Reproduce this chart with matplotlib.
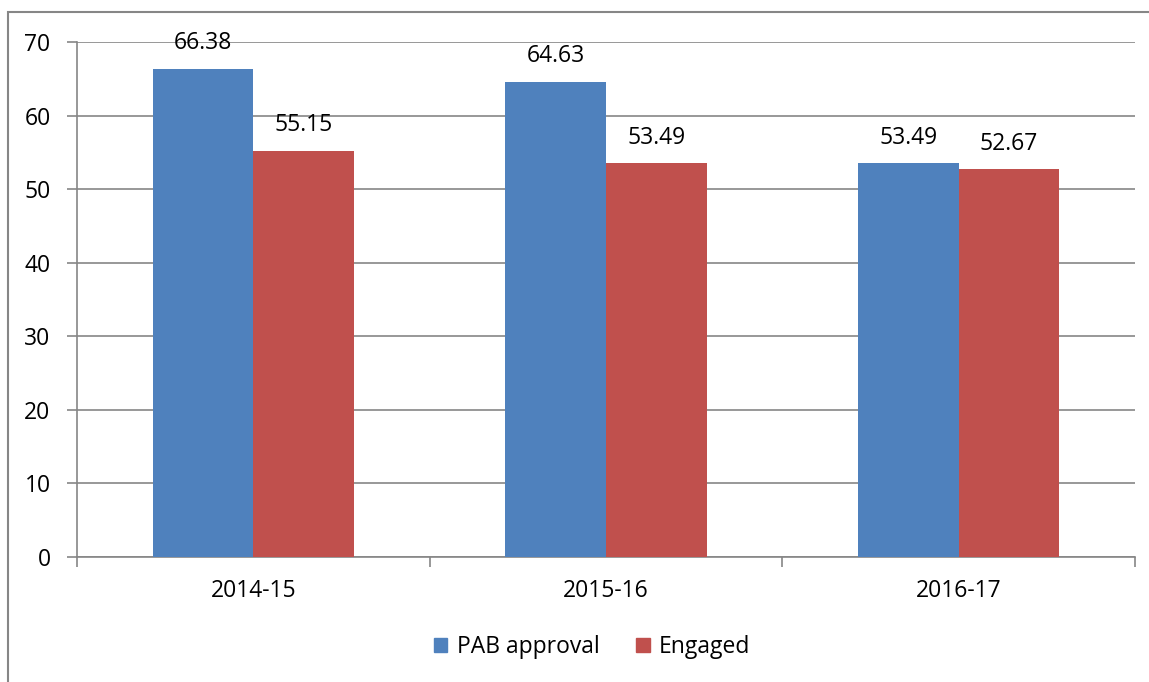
import numpy as np
import matplotlib.pyplot as plt
from matplotlib.patches import Rectangle, Patch

years = ['2014-15', '2015-16', '2016-17']
pab_approval = [66.38, 64.63, 53.49]
engaged = [55.15, 53.49, 52.67]

plt.rcParams['font.family'] = ['Open Sans', 'DejaVu Sans']
fs = 16.5

W, H = 1149, 682
fig = plt.figure(figsize=(W / 100, H / 100), dpi=100)
ax = fig.add_axes([77 / W, 1 - 557 / H, (1135 - 77) / W, (557 - 42) / H])

# outer chart border (only left and top visible in the reference)
fig.patches.append(Rectangle((8 / W, -0.1), 1.2, 1 - 12 / H + 0.1, transform=fig.transFigure,
                             fill=False, edgecolor='#868686', linewidth=1.5))

x = np.arange(len(years))
w = 0.285
b1 = ax.bar(x - w / 2, pab_approval, w, color='#4F81BD', label='PAB approval', zorder=3)
b2 = ax.bar(x + w / 2, engaged, w, color='#C0504D', label='Engaged', zorder=3)

for bars in (b1, b2):
    for r in bars:
        ax.annotate(f'{r.get_height():.2f}', (r.get_x() + r.get_width() / 2, r.get_height()),
                    xytext=(0, 10), textcoords='offset points', ha='center', va='bottom',
                    fontsize=fs, color='black')

ax.set_xlim(-0.5, 2.5)
ax.set_ylim(0, 70)
ax.set_yticks(range(0, 71, 10))
ax.yaxis.grid(True, color='#868686', linewidth=1.2, zorder=0)
ax.set_xticks(x)
ax.set_xticklabels(years, fontsize=fs)
ax.set_xticks([-0.5, 0.5, 1.5, 2.5], minor=True)
ax.tick_params(axis='x', which='major', length=0, pad=16)
ax.tick_params(axis='x', which='minor', length=7, color='#868686', width=1.2)
ax.tick_params(axis='y', length=7, color='#868686', width=1.2, labelsize=fs, pad=12)

for s in ['top', 'right']:
    ax.spines[s].set_visible(False)
for s in ['left', 'bottom']:
    ax.spines[s].set_color('#868686')
    ax.spines[s].set_linewidth(1.2)

handles = [Patch(color='#4F81BD'), Patch(color='#C0504D')]
fig.legend(handles, ['PAB approval', 'Engaged'], loc='center', bbox_to_anchor=(592 / W, 1 - 647 / H),
           ncol=2, frameon=False, fontsize=fs, handlelength=0.6, handleheight=0.6,
           handletextpad=0.4, columnspacing=1.6)

fig.savefig('out.png', dpi=100)
